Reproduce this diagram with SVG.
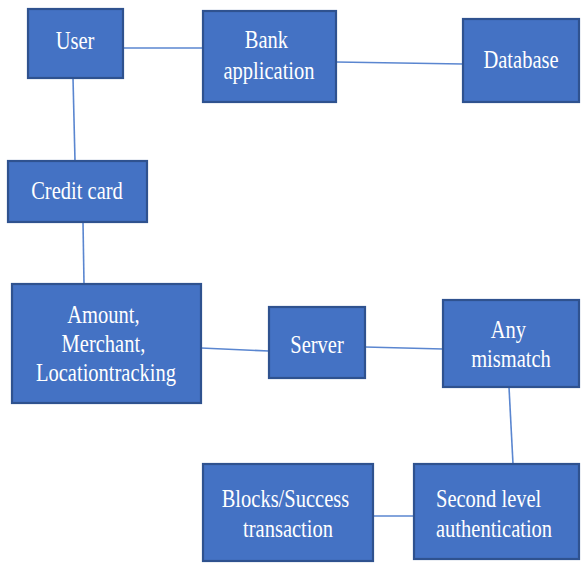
<svg xmlns="http://www.w3.org/2000/svg" width="581" height="563" viewBox="0 0 581 563">
  <defs>
    <style>
      .box { fill: #4472C4; stroke: #2F528F; stroke-width: 2.2; }
      .link { stroke: #5A86D0; stroke-width: 1.6; fill: none; }
      .lbl { font-size: 25px; fill: #FFFFFF; }
      .mid { text-anchor: middle; }
    </style>
  </defs>
  <rect width="581" height="563" fill="#FFFFFF"/>

  <g id="connectors">
    <line class="link" x1="123" y1="48" x2="203" y2="48"/>
    <line class="link" x1="336" y1="62" x2="463" y2="64"/>
    <line class="link" x1="73" y1="78" x2="75" y2="161"/>
    <line class="link" x1="83" y1="222" x2="84" y2="284"/>
    <line class="link" x1="201" y1="348" x2="269" y2="351"/>
    <line class="link" x1="365" y1="347" x2="443" y2="349"/>
    <line class="link" x1="509" y1="387" x2="513" y2="464"/>
    <line class="link" x1="373" y1="516" x2="414" y2="516"/>
  </g>

  <g id="user">
    <rect class="box" x="28" y="9" width="95" height="69"/>
    <text class="lbl mid" font-family="Liberation Serif" transform="translate(75 49) scale(0.82 1)">User</text>
  </g>

  <g id="bank-application">
    <rect class="box" x="203" y="11" width="133" height="91"/>
    <text class="lbl mid" font-family="Liberation Serif" transform="translate(269 48) scale(0.82 1)">
      <tspan x="0" y="0">Bank</tspan>
      <tspan x="0" y="31">application</tspan>
    </text>
  </g>

  <g id="database">
    <rect class="box" x="463" y="19" width="116" height="83"/>
    <text class="lbl mid" font-family="Liberation Serif" transform="translate(521 68) scale(0.82 1)">Database</text>
  </g>

  <g id="credit-card">
    <rect class="box" x="8" y="161" width="139" height="61"/>
    <text class="lbl mid" font-family="Liberation Serif" transform="translate(77 199) scale(0.82 1)">Credit card</text>
  </g>

  <g id="tracking">
    <rect class="box" x="12" y="284" width="189" height="119"/>
    <text class="lbl mid" font-family="Liberation Serif" transform="translate(106 323) scale(0.82 1)">
      <tspan x="0" y="0">Amount,</tspan>
      <tspan x="0" y="29">Merchant,</tspan>
      <tspan x="0" y="58">Locationtracking</tspan>
    </text>
  </g>

  <g id="server">
    <rect class="box" x="269" y="307" width="96" height="71"/>
    <text class="lbl mid" font-family="Liberation Serif" transform="translate(317 353) scale(0.82 1)">Server</text>
  </g>

  <g id="any-mismatch">
    <rect class="box" x="443" y="300" width="136" height="87"/>
    <text class="lbl mid" font-family="Liberation Serif" transform="translate(511 338) scale(0.82 1)">
      <tspan x="0" y="0">Any</tspan>
      <tspan x="0" y="29">mismatch</tspan>
    </text>
  </g>

  <g id="blocks-success">
    <rect class="box" x="203" y="464" width="170" height="97"/>
    <text class="lbl mid" font-family="Liberation Serif" transform="translate(288 507) scale(0.82 1)">
      <tspan x="0" y="0">Blocks/Success</tspan>
      <tspan x="0" y="30">transaction</tspan>
    </text>
  </g>

  <g id="second-level">
    <rect class="box" x="414" y="464" width="165" height="95"/>
    <text class="lbl" font-family="Liberation Serif" transform="translate(436 507) scale(0.82 1)">
      <tspan x="0" y="0">Second level</tspan>
      <tspan x="0" y="30">authentication</tspan>
    </text>
  </g>
</svg>
